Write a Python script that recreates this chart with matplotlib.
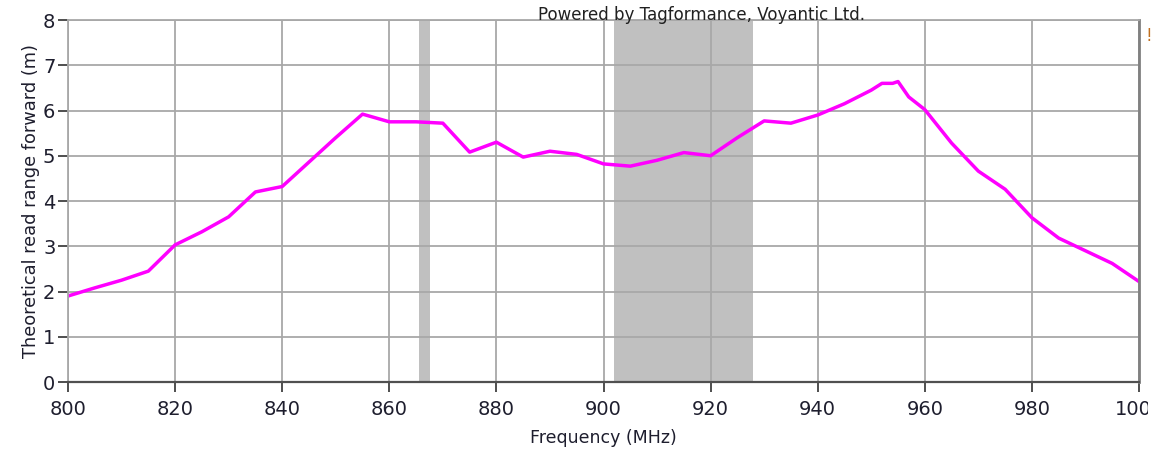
import matplotlib
matplotlib.use("Agg")
import matplotlib.pyplot as plt
from matplotlib.transforms import Bbox, TransformedBbox

freq = [800, 805, 810, 815, 820, 825, 830, 835, 840, 845, 850, 855, 860, 865, 870,
        875, 880, 885, 890, 895, 900, 905, 910, 915, 920, 925, 930, 935, 940, 945,
        950, 952, 954, 955, 957, 960, 965, 970, 975, 980, 985, 990, 995, 1000]
read_range = [1.90, 2.08, 2.25, 2.45, 3.03, 3.32, 3.65, 4.20, 4.32, 4.86, 5.40, 5.92,
              5.75, 5.75, 5.72, 5.08, 5.30, 4.97, 5.10, 5.03, 4.82, 4.77, 4.90, 5.07,
              5.00, 5.40, 5.77, 5.72, 5.90, 6.15, 6.45, 6.60, 6.60, 6.64, 6.30, 6.02,
              5.28, 4.66, 4.26, 3.63, 3.18, 2.90, 2.62, 2.22]
bands = [(865.6, 867.6), (902.0, 928.0)]
xticks = [800, 820, 840, 860, 880, 900, 920, 940, 960, 980, 1000]
yticks = [0, 1, 2, 3, 4, 5, 6, 7, 8]

plt.rcParams['font.family'] = ['DejaVu Sans']
txt = '#1e1e2e'
fig = plt.figure(figsize=(11.62, 4.55), dpi=100)
ax = fig.add_axes([68/1162, 73/455, (1139-68)/1162, (382-20)/455])

for a, b in bands:
    ax.axvspan(a, b, color='#c0c0c0', zorder=1, lw=0)
ax.plot(freq, read_range, color='#ff00ff', lw=2.5, zorder=3)

ax.set_xlim(800, 1000)
ax.set_ylim(0, 8)
ax.set_xticks(xticks)
ax.set_yticks(yticks)
ax.grid(True, color='#a8a8a8', lw=1.3, zorder=2)
ax.set_axisbelow(False)
for ln in ax.get_xgridlines() + ax.get_ygridlines():
    ln.set_zorder(2)

for s in ['top', 'right', 'left']:
    ax.spines[s].set_color('#a8a8a8')
    ax.spines[s].set_linewidth(1.3)
ax.spines['right'].set_color('#808080')
ax.spines['right'].set_linewidth(2)
ax.spines['bottom'].set_color('#505050')
ax.spines['bottom'].set_linewidth(1.6)
for s in ax.spines.values():
    s.set_zorder(4)

ax.tick_params(axis='both', colors='#303030', labelcolor=txt, labelsize=14, length=7, width=1.2)
ax.tick_params(axis='x', pad=6)
ax.tick_params(axis='y', pad=2)

ax.set_xlabel('Frequency (MHz)', fontsize=12.5, color=txt, labelpad=7)
ax.set_ylabel('Theoretical read range forward (m)', fontsize=12.8, color=txt, labelpad=2)

fig.text(701/1162, 1 - 15/455, 'Powered by Tagformance, Voyantic Ltd.', ha='center', va='center',
         fontsize=12, color='#202020')
fig.text(1146/1162, 1 - 36/455, '!', ha='left', va='center', fontsize=12, color='#c07020')

fig.canvas.draw()
clip = TransformedBbox(Bbox([[0, 0], [1148/1162, 1]]), fig.transFigure)
for lbl in ax.get_xticklabels():
    lbl.set_clip_box(clip)
    lbl.set_clip_on(True)

fig.savefig('out.png', dpi=100)
